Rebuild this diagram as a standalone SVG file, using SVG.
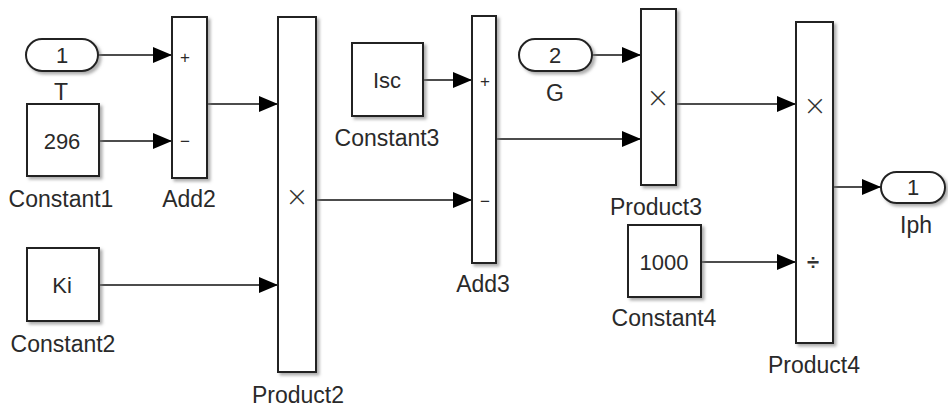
<svg xmlns="http://www.w3.org/2000/svg" width="948" height="407" viewBox="0 0 948 407">
<style>
.blk{fill:#fff;stroke:#222;stroke-width:2;filter:url(#sh)}
.lbl{font-family:"Liberation Sans",Arial,sans-serif;font-size:23px;fill:#2a2a2a;text-anchor:middle}
.in{font-family:"Liberation Sans",Arial,sans-serif;font-size:22px;fill:#2a2a2a;text-anchor:middle}
.sg{font-family:"Liberation Sans",Arial,sans-serif;font-size:17px;fill:#2a2a2a;text-anchor:middle}
.op{font-family:"DejaVu Sans",sans-serif;font-size:28px;font-weight:200;fill:#333;text-anchor:middle}
.dv{font-family:"Liberation Sans",Arial,sans-serif;font-size:22px;font-weight:bold;fill:#333;text-anchor:middle}
.ln{fill:none;stroke:#111;stroke-width:1.5;marker-end:url(#ah)}
</style>
<defs>
<filter id="sh" x="-20%" y="-20%" width="150%" height="150%">
<feDropShadow dx="2.5" dy="2.5" stdDeviation="1.5" flood-color="#777" flood-opacity="0.6"/>
</filter>
<marker id="ah" markerUnits="userSpaceOnUse" markerWidth="19" markerHeight="16" refX="19" refY="8" orient="auto">
<path d="M0,0 L19,8 L0,16 z" fill="#000"/>
</marker>
</defs>
<rect width="948" height="407" fill="#fff"/>
<g id="connectors">
<path class="ln" d="M98,55 H172"/>
<path class="ln" d="M99,141 H172"/>
<path class="ln" d="M207,104 H278"/>
<path class="ln" d="M99,285 H278"/>
<path class="ln" d="M316,200 H472"/>
<path class="ln" d="M423,80 H472"/>
<path class="ln" d="M496,139 H641"/>
<path class="ln" d="M592,55 H641"/>
<path class="ln" d="M676,104 H796"/>
<path class="ln" d="M701,262 H796"/>
<path class="ln" d="M833,187 H881"/>
</g>
<g id="In1">
<rect class="blk" x="26" y="39" width="72" height="32" rx="16"/>
<text class="in" x="62" y="63">1</text>
<text class="lbl" x="61" y="100">T</text>
</g>
<g id="Constant1">
<rect class="blk" x="27" y="104" width="72" height="72"/>
<text class="in" x="62" y="149">296</text>
<text class="lbl" x="61" y="207">Constant1</text>
</g>
<g id="Add2">
<rect class="blk" x="172" y="17" width="35" height="161"/>
<text class="sg" x="185" y="63">+</text>
<text class="sg" x="185" y="147">−</text>
<text class="lbl" x="189" y="207">Add2</text>
</g>
<g id="Constant2">
<rect class="blk" x="27" y="248" width="72" height="73"/>
<text class="in" x="62" y="293">Ki</text>
<text class="lbl" x="63" y="352">Constant2</text>
</g>
<g id="Product2">
<rect class="blk" x="278" y="17" width="38" height="355"/>
<text class="op" x="297" y="206">×</text>
<text class="lbl" x="298" y="403">Product2</text>
</g>
<g id="Constant3">
<rect class="blk" x="352" y="43" width="71" height="73"/>
<text class="in" x="387" y="88">Isc</text>
<text class="lbl" x="387" y="146">Constant3</text>
</g>
<g id="Add3">
<rect class="blk" x="472" y="16" width="24" height="247"/>
<text class="sg" x="485" y="87">+</text>
<text class="sg" x="485" y="207">−</text>
<text class="lbl" x="483" y="292">Add3</text>
</g>
<g id="In2">
<rect class="blk" x="519" y="39" width="73" height="32" rx="16"/>
<text class="in" x="555" y="63">2</text>
<text class="lbl" x="555" y="101">G</text>
</g>
<g id="Product3">
<rect class="blk" x="641" y="9" width="35" height="176"/>
<text class="op" x="658" y="107">×</text>
<text class="lbl" x="656" y="215">Product3</text>
</g>
<g id="Constant4">
<rect class="blk" x="628" y="225" width="73" height="72"/>
<text class="in" x="664" y="270">1000</text>
<text class="lbl" x="664" y="326">Constant4</text>
</g>
<g id="Product4">
<rect class="blk" x="796" y="22" width="37" height="321"/>
<text class="op" x="815" y="115">×</text>
<text class="dv" x="813" y="270">÷</text>
<text class="lbl" x="814" y="373">Product4</text>
</g>
<g id="Out1">
<rect class="blk" x="881" y="172" width="64" height="31" rx="15.5"/>
<text class="in" x="913" y="195">1</text>
<text class="lbl" x="916" y="233">Iph</text>
</g>
</svg>
